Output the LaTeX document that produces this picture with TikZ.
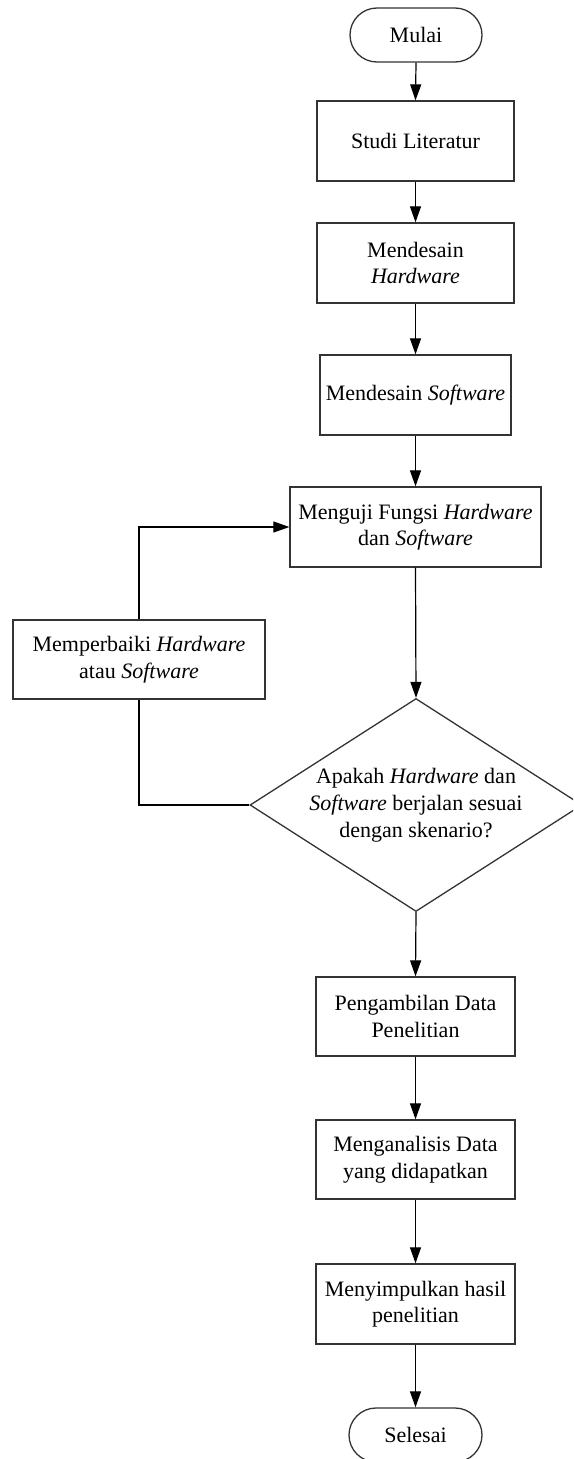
\documentclass[tikz,border=0pt]{standalone}
\usepackage{fontspec}
\setmainfont{Liberation Serif}
\usetikzlibrary{shapes.geometric,arrows.meta}
\tikzset{
  base/.style={draw=black!80, line width=1.3pt, align=center, inner sep=0pt,
    font=\fontsize{22}{26.5}\selectfont, text=black},
  procbox/.style={base, rectangle, minimum height=80pt},
  termbox/.style={base, rectangle, rounded corners=27pt, minimum width=132pt, minimum height=54pt},
  decbox/.style={draw=black!80, line width=1.3pt, diamond, inner sep=0pt, minimum width=332pt, minimum height=213pt},
  dectext/.style={align=center, inner sep=0pt, font=\fontsize{22}{27}\selectfont, text=black},
  flow/.style={draw=black, line width=1.2pt, -{Triangle[length=16pt,width=11pt]}},
  plain/.style={draw=black, line width=1.2pt}
}
\begin{document}
\begin{tikzpicture}[x=1pt,y=-1pt]
\clip (0,0) rectangle (573,1459);
\node[termbox] (mulai) at (416,35) {Mulai};
\node[procbox, minimum width=197pt] (studi) at (415.5,141) {Studi Literatur};
\node[procbox, minimum width=197pt] (mdh) at (415.5,263) {Mendesain\\\textit{Hardware}};
\node[procbox, minimum width=191pt] (mds) at (415.5,395) {Mendesain \textit{Software}};
\node[procbox, minimum width=251pt] (uji) at (415.5,527) {Menguji Fungsi \textit{Hardware}\\dan \textit{Software}};
\node[procbox, minimum width=252pt, minimum height=79pt] (baiki) at (139,659.5) {Memperbaiki \textit{Hardware}\\atau \textit{Software}};
\node[decbox] (dec) at (416,805) {};
\node[dectext] (dectxt) at (dec.center) {Apakah \textit{Hardware} dan\\\textit{Software} berjalan sesuai\\dengan skenario?};
\node[procbox, minimum width=199pt, minimum height=79pt] (ambil) at (415.5,1016.5) {Pengambilan Data\\Penelitian};
\node[procbox, minimum width=199pt, minimum height=79pt] (analisis) at (415.5,1159.5) {Menganalisis Data\\yang didapatkan};
\node[procbox, minimum width=199pt] (simpul) at (415.5,1304) {Menyimpulkan hasil\\penelitian};
\node[termbox, minimum width=133pt] (selesai) at (415.5,1435) {Selesai};

\draw[flow] (mulai.south) -- (studi.north);
\draw[flow] (studi.south) -- (mdh.north);
\draw[flow] (mdh.south) -- (mds.north);
\draw[flow] (mds.south) -- (uji.north);
\draw[flow] (uji.south) -- (dec.north);
\draw[flow] (dec.south) -- (ambil.north);
\draw[flow] (ambil.south) -- (analisis.north);
\draw[flow] (analisis.south) -- (simpul.north);
\draw[flow] (simpul.south) -- (selesai.north);
\draw[plain] (dec.west) -| (baiki.south);
\draw[flow] (baiki.north) |- (uji.west);
\end{tikzpicture}
\end{document}
